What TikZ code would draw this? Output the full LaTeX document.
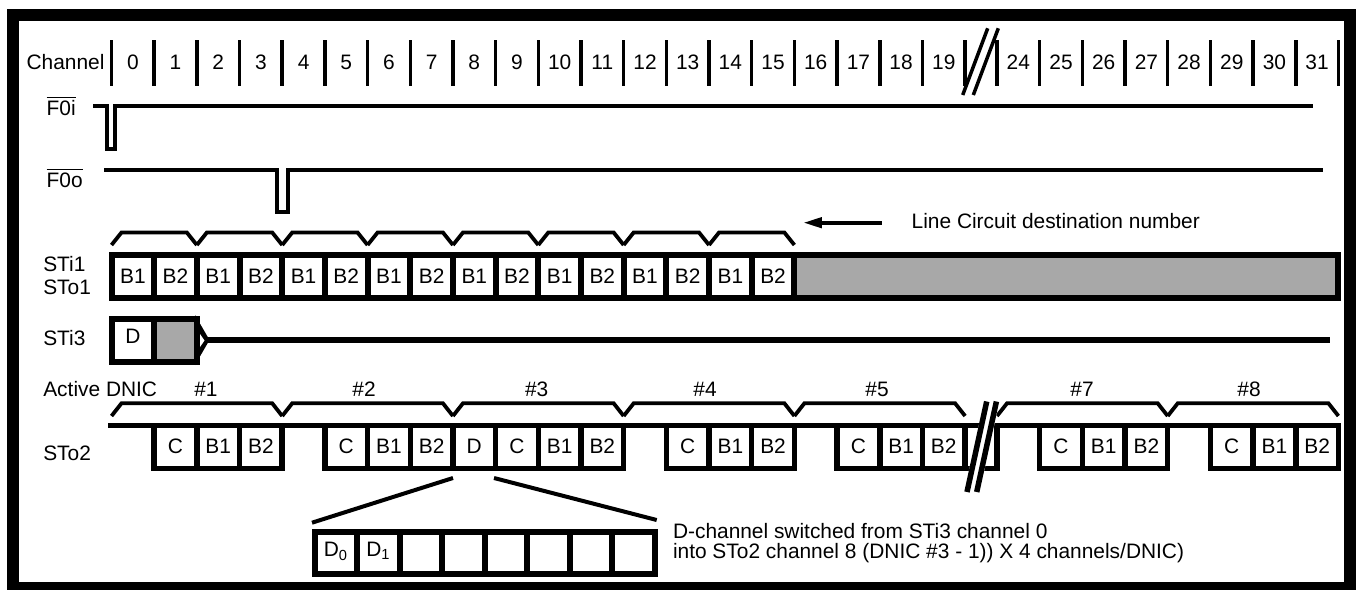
\documentclass[tikz,border=0pt]{standalone}
\usepackage{fontspec}
\setmainfont{Liberation Sans}
\usetikzlibrary{arrows.meta}
\definecolor{shade}{RGB}{168,168,168}
\begin{document}
\begin{tikzpicture}[x=0.5pt,y=-0.5pt,
  every node/.style={inner sep=0pt, outer sep=0pt, font=\fontsize{10.45}{12.5}\selectfont},
  bar/.style={line width=1.75pt},
  sig/.style={line width=2pt, line join=miter},
  brace/.style={line width=1.9pt, line join=miter},
  cell/.style={line width=3pt, fill=white},
  graycell/.style={line width=3pt, fill=shade},
  boxcell/.style={line width=2.75pt, fill=white},
  zoomline/.style={line width=2pt},
  frame/.style={line width=6pt},
  lbl/.style={anchor=base},
  side/.style={anchor=base west},
]
\useasboundingbox (0,0) rectangle (1358,589);
% outer frame
\draw[frame] (13,15) rectangle (1349.5,588);

% channel ruler
\foreach \k in {0,...,20} \draw[bar] ({111.5+42.68*\k},40) -- ({111.5+42.68*\k},86);
\foreach \k in {24,...,32} \draw[bar] ({997+42.68*(\k-24)},40) -- ({997+42.68*(\k-24)},86);
\node[anchor=base east] (chlabel) at (104.5,69.3) {Channel};
\foreach \k in {0,...,19} \node[lbl] (ch\k) at ({111.5+42.68*\k+21.34},69.3) {\k};
\foreach \k in {24,...,31} \node[lbl] (ch\k) at ({997+42.68*(\k-24)+21.34},69.3) {\k};
\draw[bar] (962.7,95) -- (987.7,28.3);
\draw[bar] (973.3,95) -- (998.3,28.3);

% frame pulses
\node[side] (f0i) at (46.7,115) {$\overline{\mbox{F0i}}$};
\draw[sig] (93,106) -- (106.7,106) -- (106.7,148.7) -- (114.5,148.7) -- (114.5,106) -- (1313,106);
\node[side] (f0o) at (46.7,187) {$\overline{\mbox{F0o}}$};
\draw[sig] (104,169.5) -- (276.7,169.5) -- (276.7,212) -- (287.7,212) -- (287.7,169.5) -- (1323,169.5);

% STi1 braces
\foreach \i in {0,...,7} {
  \pgfmathsetmacro\a{111.5+85.36*\i}
  \pgfmathsetmacro\b{\a+85.36}
  \draw[brace] (\a,245) -- (\a+10,232.5) -- (\b-10,232.5) -- (\b,245);
}
\node[side] (lcd) at (911.7,228.3) {Line Circuit destination number};
\coordinate (lcdstart) at (881.7,222.7);
\coordinate (lcdtip) at (803,222.7);
\draw[line width=2pt, -{Triangle[length=9.4pt,width=5pt]}] (lcdstart) -- (lcdtip);

% STi1 / STo1 row
\node[side] (sti1) at (43.3,271.7) {STi1};
\node[side] (sto1) at (43.3,294) {STo1};
\foreach \k in {0,...,15} {
  \pgfmathsetmacro\a{111.5+42.68*\k}
  \pgfmathsetmacro\b{\a+42.68}
  \draw[cell] (\a,255) rectangle (\b,297.5);
  \node[lbl] (sti1c\k) at ({(\a+\b)/2},283.3) {\ifodd\k\relax B2\else B1\fi};
}
\draw[graycell] (794.4,255) rectangle (1338.4,297.5);

% STi3 row
\node[side] (sti3) at (43.3,345) {STi3};
\draw[cell] (111.5,318.5) rectangle (154.2,361.5);
\draw[graycell] (154.2,318.5) rectangle (196.9,361.5);
\node[lbl] (dcell) at (132.8,343) {D};
\fill (195,315) -- (209.5,340) -- (195,365) -- cycle;
\fill[white] (200,334) -- (204.5,340.5) -- (200,347) -- cycle;
\draw[line width=3.3pt] (207,340) -- (1330,340);

% Active DNIC
\node[side] (adnic) at (43.3,396.7) {Active DNIC};
\node[lbl] (n1) at (206,396.7) {\#1};
\node[lbl] (n2) at (364,396.7) {\#2};
\node[lbl] (n3) at (536.7,396.7) {\#3};
\node[lbl] (n4) at (705,396.7) {\#4};
\node[lbl] (n5) at (877,396.7) {\#5};
\node[lbl] (n7) at (1082,396.7) {\#7};
\node[lbl] (n8) at (1249,396.7) {\#8};
\foreach \i in {0,...,4} {
  \pgfmathsetmacro\a{111.5+170.72*\i}
  \pgfmathsetmacro\b{\a+170.72}
  \draw[brace] (\a,416) -- (\a+10,403.3) -- (\b-10,403.3) -- (\b,416);
}
\foreach \i in {0,1} {
  \pgfmathsetmacro\a{997+170.72*\i}
  \pgfmathsetmacro\b{\a+170.72}
  \draw[brace] (\a,416) -- (\a+10,403.3) -- (\b-10,403.3) -- (\b,416);
}

% STo2 row
\node[side] (sto2) at (43.3,460.7) {STo2};
\draw[line width=2.8pt] (108.3,425.5) -- (1341.2,425.5);
\foreach \k/\t in {1/C,2/B1,3/B2,5/C,6/B1,7/B2,8/D,9/C,10/B1,11/B2,13/C,14/B1,15/B2,17/C,18/B1,19/B2} {
  \pgfmathsetmacro\a{111.5+42.68*\k}
  \pgfmathsetmacro\b{\a+42.68}
  \draw[boxcell] (\a,425.5) rectangle (\b,468.5);
  \node[lbl] (stoc\k) at ({(\a+\b)/2},453.3) {\t};
}
\draw[boxcell] (965.1,425.5) rectangle (997,468.5);
\foreach \k/\t in {25/C,26/B1,27/B2,29/C,30/B1,31/B2} {
  \pgfmathsetmacro\a{997+42.68*(\k-24)}
  \pgfmathsetmacro\b{\a+42.68}
  \draw[boxcell] (\a,425.5) rectangle (\b,468.5);
  \node[lbl] (stoc\k) at ({(\a+\b)/2},453.3) {\t};
}
% break symbol
\draw[white, line width=7.5pt] (971.9,492) -- (991.7,401.5);
\draw[line width=2.75pt] (967,492) -- (986.7,401.5);
\draw[line width=2.75pt] (976.7,492) -- (996.4,401.5);

% expansion of the D channel
\coordinate (dbl) at (453,478);
\coordinate (dbr) at (494,478);
\coordinate (bbl) at (312,522.7);
\coordinate (bbr) at (656.7,520);
\draw[zoomline] (dbl) -- (bbl);
\draw[zoomline] (dbr) -- (bbr);
\foreach \i in {0,...,7} {
  \pgfmathsetmacro\a{314.7+42.54*\i}
  \pgfmathsetmacro\b{\a+42.54}
  \draw[cell] (\a,532) rectangle (\b,573.7);
}
\node[lbl] (d0) at (336,556.7) {D\textsubscript{0}};
\node[lbl] (d1) at (378.5,556.7) {D\textsubscript{1}};
\node[side] (dt1) at (673,538.5) {D-channel switched from STi3 channel 0};
\node[side] (dt2) at (673,558) {into STo2 channel 8 (DNIC \#3 - 1)) X 4 channels/DNIC)};
\end{tikzpicture}
\end{document}
